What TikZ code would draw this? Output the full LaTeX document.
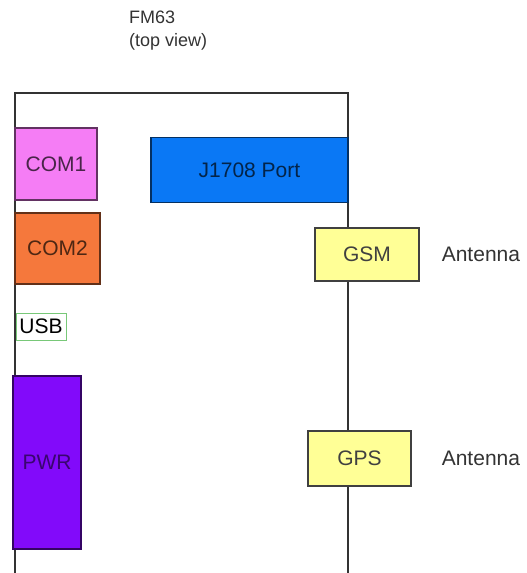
\documentclass[tikz,border=0pt]{standalone}
\usepackage{fontspec}
\setmainfont{Liberation Sans}
\usetikzlibrary{positioning}

\definecolor{compink}{RGB}{245,125,245}
\definecolor{comorange}{RGB}{245,120,60}
\definecolor{portblue}{RGB}{10,120,245}
\definecolor{pwrviolet}{RGB}{130,10,250}
\definecolor{antyellow}{RGB}{255,255,150}
\definecolor{usbgreen}{RGB}{120,200,120}

\begin{document}
\begin{tikzpicture}[
    x=1pt, y=-1pt,
    every node/.style={font=\fontsize{21}{25}\selectfont}, % plain sans labels
    part/.style={draw, line width=1.2pt, inner sep=0pt}
]
    \useasboundingbox (0,0) rectangle (527,573);

    % Housing outline (open at the bottom)
    \draw[line width=1.2pt, black!80] (15,573) -- (15,93) -- (348,93) -- (348,573);

    % Title
    \node[anchor=north west, align=left, inner sep=0pt,
          font=\fontsize{18}{23}\selectfont, black!80] (title) at (129,11) {FM63\\(top view)};

    % Place the connectors
    \node[part, fill=compink, draw=black!60!compink, text=black!70!compink,
          minimum width=82pt, minimum height=72pt] (com1) at (56,164) {COM1};
    \node[part, fill=portblue, draw=black!60!portblue, text=black!70!portblue,
          minimum width=197pt, minimum height=65pt] (j1708) at (249.5,170) {J1708 Port};
    \node[part, fill=comorange, draw=black!60!comorange, text=black!68!comorange,
          minimum width=85pt, minimum height=71pt] (com2) at (57.5,248.5) {COM2};
    \node[draw=usbgreen, line width=0.6pt, inner sep=1pt,
          minimum width=50pt, minimum height=27pt] (usb) at (41,326.5) {USB};
    \node[part, fill=pwrviolet, draw=black!60!pwrviolet, text=black!55!pwrviolet,
          minimum width=68pt, minimum height=173pt] (pwr) at (47,462.5) {PWR};
    \node[part, fill=antyellow, draw=black!75, text=black!75,
          minimum width=104pt, minimum height=53pt] (gsm) at (367,254.5) {GSM};
    \node[part, fill=antyellow, draw=black!75, text=black!75,
          minimum width=103pt, minimum height=55pt] (gps) at (359.5,458.5) {GPS};

    % Antenna labels
    \node[right=22pt of gsm, inner sep=0pt, black!80] (gsmant) {Antenna};
    \node[right=30pt of gps, inner sep=0pt, black!80] (gpsant) {Antenna};
\end{tikzpicture}
\end{document}
